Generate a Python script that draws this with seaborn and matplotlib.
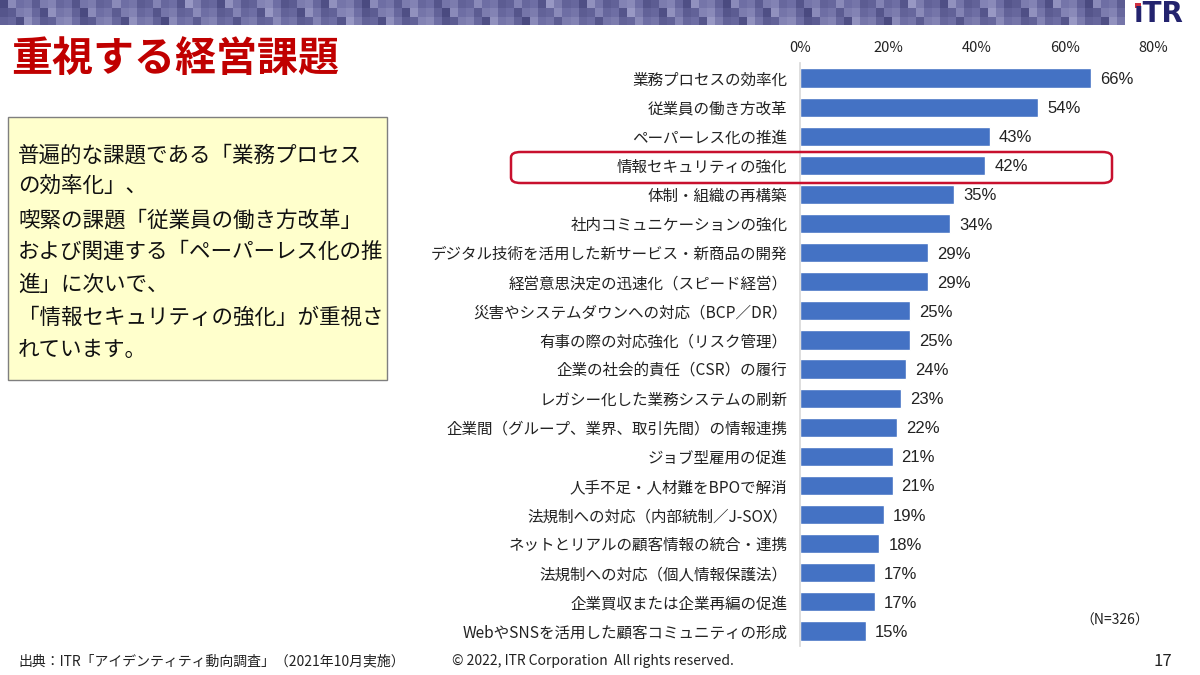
import numpy as np
import pandas as pd
import matplotlib
matplotlib.use('Agg')
import matplotlib.pyplot as plt
from matplotlib.patches import FancyBboxPatch, Rectangle
import seaborn as sns

# data (N=326)
categories = [
    '業務プロセスの効率化',
    '従業員の働き方改革',
    'ペーパーレス化の推進',
    '情報セキュリティの強化',
    '体制・組織の再構築',
    '社内コミュニケーションの強化',
    'デジタル技術を活用した新サービス・新商品の開発',
    '経営意思決定の迅速化（スピード経営）',
    '災害やシステムダウンへの対応（BCP／DR）',
    '有事の際の対応強化（リスク管理）',
    '企業の社会的責任（CSR）の履行',
    'レガシー化した業務システムの刷新',
    '企業間（グループ、業界、取引先間）の情報連携',
    'ジョブ型雇用の促進',
    '人手不足・人材難をBPOで解消',
    '法規制への対応（内部統制／J-SOX）',
    'ネットとリアルの顧客情報の統合・連携',
    '法規制への対応（個人情報保護法）',
    '企業買収または企業再編の促進',
    'WebやSNSを活用した顧客コミュニティの形成',
]
values = [66, 54, 43, 42, 35, 34, 29, 29, 25, 25, 24, 23, 22, 21, 21, 19, 18, 17, 17, 15]
x_ticks = [0, 20, 40, 60, 80]

summary_lines = [
    ('普遍的な課題である「業務プロセス', 153),
    ('の効率化」、', 184),
    ('喫緊の課題「従業員の働き方改革」', 218),
    ('および関連する「ペーパーレス化の推', 250),
    ('進」に次いで、', 283),
    ('「情報セキュリティの強化」が重視さ', 316),
    ('れています。', 348),
]

df = pd.DataFrame({'課題': categories, '割合': values})

sns.set_theme(style='white')
plt.rcParams['font.family'] = ['Noto Sans CJK JP', 'DejaVu Sans']

W, H = 1200, 675
fig = plt.figure(figsize=(12, 6.75), dpi=100)
fig.patch.set_facecolor('white')

def fy(py):
    return 1 - py / H

# banner mosaic across the top
ban = fig.add_axes([0, fy(25), 1125 / W, 25 / H])
rows, cols = 3, 140
pattern = np.array([[((c * 7 + r * 11) % 9 + (c * 3) % 5) / 12.0 for c in range(cols)] for r in range(rows)])
ban.imshow(pattern, aspect='auto', cmap=sns.blend_palette(['#4a4a80', '#6e6ea4', '#9898c4'], as_cmap=True),
           interpolation='nearest')
ban.axis('off')

# logo
fig.text(1134 / W, fy(14), 'ıTR', fontsize=20, fontweight='bold', color='#23236e',
         family='DejaVu Sans', va='center', ha='left')
fig.patches.append(Rectangle((1135 / W, fy(8)), 6 / W, 5 / H, transform=fig.transFigure,
                             facecolor='#d03040', edgecolor='none'))

# title
fig.text(11 / W, fy(59), '重視する経営課題', fontsize=29.5, fontweight='bold', color='#c00000',
         va='center', ha='left')

# summary box
fig.patches.append(Rectangle((8 / W, fy(380)), 379 / W, 263 / H, transform=fig.transFigure,
                             facecolor='#ffffcc', edgecolor='#7f7f7f', linewidth=1))
for line, py in summary_lines:
    fig.text(18 / W, fy(py + 2), line, fontsize=15.5, color='#111111', va='center', ha='left')

# bar chart
ax = fig.add_axes([800 / W, fy(645.5), 353 / W, 582 / H])
sns.barplot(data=df, x='割合', y='課題', color='#4472c4', orient='h', width=0.66,
            saturation=1, ax=ax)
ax.set_xlim(0, 80)
ax.set_ylim(len(categories) - 0.5, -0.5)
ax.set_xlabel('')
ax.set_ylabel('')
ax.xaxis.tick_top()
ax.set_xticks(x_ticks)
ax.set_xticklabels([f'{t}%' for t in x_ticks], fontsize=10.5, color='#222222')
ax.tick_params(axis='x', length=0, pad=6)
ax.tick_params(axis='y', length=0, pad=9, labelsize=11.2, labelcolor='#222222')
for s in ['top', 'right', 'bottom']:
    ax.spines[s].set_visible(False)
ax.spines['left'].set_color('#d9d9d9')
ax.set_facecolor('none')
for i, v in enumerate(values):
    ax.text(v + 2, i + 0.05, f'{v}%', va='center', ha='left', fontsize=12, color='#222222',
            family=['Liberation Sans', 'DejaVu Sans'])

# highlight frame for 情報セキュリティの強化
fig.patches.append(FancyBboxPatch((511 / W, fy(183)), 601 / W, 31 / H, transform=fig.transFigure,
                                  boxstyle='round,pad=0,rounding_size=0.008',
                                  facecolor='none', edgecolor='#c8102e', linewidth=1.8))

fig.text(1080 / W, fy(621), '（N=326）', fontsize=10, color='#222222', va='center', ha='left')

# footer
fig.text(18 / W, fy(661), '出典：ITR「アイデンティティ動向調査」（2021年10月実施）', fontsize=10,
         color='#222222', va='center', ha='left')
fig.text(452 / W, fy(661), '© 2022, ITR Corporation  All rights reserved.', fontsize=10,
         color='#222222', va='center', ha='left')
fig.text(1163 / W, fy(661), '17', fontsize=12, color='#222222', va='center', ha='center')

fig.savefig('out.png', dpi=100)
